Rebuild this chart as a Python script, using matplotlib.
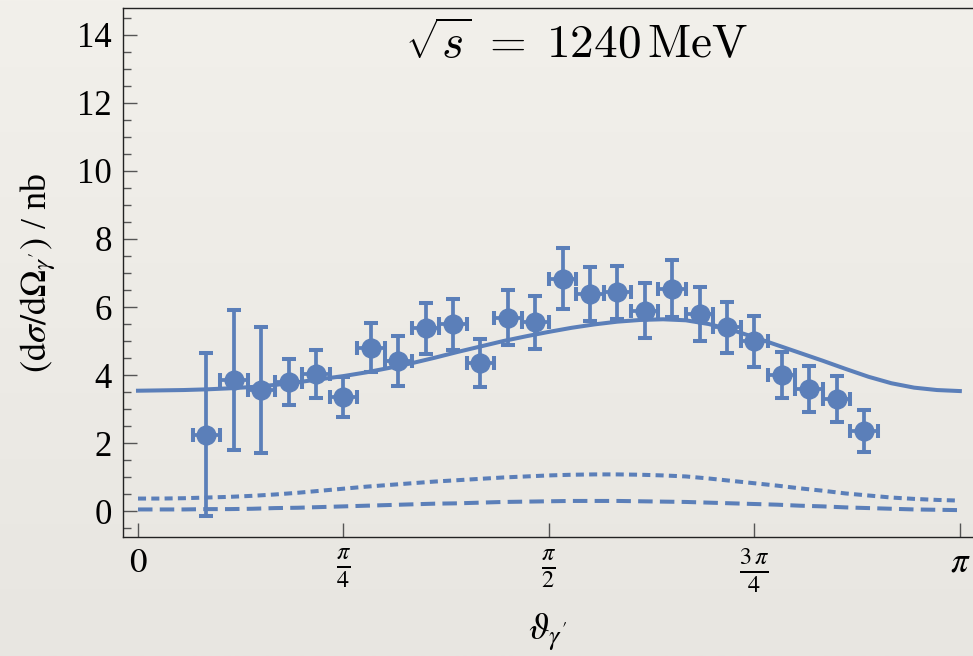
import numpy as np
import matplotlib
matplotlib.use("Agg")
import matplotlib.pyplot as plt
from matplotlib.ticker import FixedLocator, MultipleLocator
from matplotlib.colors import LinearSegmentedColormap

# ---- data (angles in degrees) ----
data_deg = [15, 21, 27, 33, 39, 45, 51, 57, 63, 69, 75, 81, 87, 93, 99, 105,
            111, 117, 123, 129, 135, 141, 147, 153, 159]
data_y = [2.25, 3.86, 3.56, 3.79, 4.04, 3.36, 4.81, 4.42, 5.37, 5.49, 4.36, 5.69,
          5.55, 6.83, 6.38, 6.43, 5.89, 6.54, 5.79, 5.41, 4.99, 4.01, 3.59, 3.30, 2.36]
data_err = [2.40, 2.05, 1.85, 0.68, 0.71, 0.59, 0.71, 0.73, 0.76, 0.74, 0.70, 0.81,
            0.77, 0.90, 0.79, 0.79, 0.81, 0.84, 0.79, 0.75, 0.75, 0.68, 0.67, 0.67, 0.62]
data_xerr_deg = 3.0

curve_deg = [0, 5, 10, 15, 20, 25, 30, 35, 40, 45, 50, 55, 60, 65, 70, 75, 80, 85,
             90, 95, 100, 105, 110, 115, 120, 125, 130, 135, 140, 145, 150, 155,
             160, 165, 170, 175, 180]
total = [3.54, 3.55, 3.56, 3.58, 3.61, 3.65, 3.71, 3.79, 3.88, 3.97, 4.08, 4.21,
         4.35, 4.51, 4.68, 4.84, 5.00, 5.14, 5.27, 5.39, 5.49, 5.57, 5.62, 5.64,
         5.61, 5.50, 5.33, 5.11, 4.88, 4.65, 4.42, 4.18, 3.95, 3.76, 3.63, 3.56, 3.53]
dotted = [0.37, 0.37, 0.38, 0.40, 0.42, 0.45, 0.49, 0.54, 0.60, 0.66, 0.72, 0.77,
          0.82, 0.87, 0.91, 0.95, 0.99, 1.02, 1.05, 1.07, 1.08, 1.08, 1.07, 1.05,
          1.02, 0.96, 0.89, 0.82, 0.75, 0.67, 0.60, 0.52, 0.46, 0.40, 0.36, 0.33, 0.31]
dashed = [0.05, 0.05, 0.05, 0.06, 0.06, 0.07, 0.09, 0.10, 0.12, 0.14, 0.16, 0.18,
          0.20, 0.22, 0.23, 0.25, 0.27, 0.28, 0.29, 0.30, 0.30, 0.30, 0.29, 0.28,
          0.27, 0.25, 0.23, 0.21, 0.19, 0.16, 0.14, 0.11, 0.09, 0.07, 0.05, 0.04, 0.03]

xtick_vals = [0, np.pi / 4, np.pi / 2, 3 * np.pi / 4, np.pi]
xtick_labels = [r"$0$", r"$\frac{\pi}{4}$", r"$\frac{\pi}{2}$",
                r"$\frac{3\,\pi}{4}$", r"$\pi$"]
ytick_vals = [0, 2, 4, 6, 8, 10, 12, 14]

blue = "#5b7fb9"

fig = plt.figure(figsize=(9.73, 6.56), dpi=100)
fig.patch.set_facecolor("#edebe6")

# subtle background gradient
bg = fig.add_axes([0, 0, 1, 1], zorder=-10)
grad = np.linspace(0, 1, 256).reshape(-1, 1)
cmap = LinearSegmentedColormap.from_list("bg", ["#f2f0eb", "#e8e6e1"])
bg.imshow(grad, aspect="auto", cmap=cmap, extent=[0, 1, 0, 1])
bg.axis("off")

ax = fig.add_axes([123 / 973, 1 - 537 / 656, 1 - 123 / 973, (537 - 8) / 656])
ax.patch.set_alpha(0)

xr = np.deg2rad(curve_deg)
lw = 2.9
ax.plot(xr, total, color=blue, lw=lw, zorder=2)
ax.plot(xr, dotted, color=blue, lw=lw, dashes=(2.0, 1.3), zorder=2)
ax.plot(xr, dashed, color=blue, lw=lw, dashes=(3.6, 1.8), zorder=2)

ax.errorbar(np.deg2rad(data_deg), data_y, yerr=data_err,
            xerr=np.deg2rad(data_xerr_deg), fmt="o", color=blue, ms=13.5,
            elinewidth=2.7, capsize=5, capthick=2.9, zorder=3)

ax.set_xlim(-15 / 261.6, (973 - 138) / 261.6)
ax.set_ylim(-0.76, 14.79)

ax.xaxis.set_major_locator(FixedLocator(xtick_vals))
ax.set_xticklabels(xtick_labels)
ax.yaxis.set_major_locator(FixedLocator(ytick_vals))
ax.yaxis.set_minor_locator(MultipleLocator(0.5))

serif = ["Liberation Serif", "DejaVu Serif"]
for lab in ax.get_xticklabels() + ax.get_yticklabels():
    lab.set_family(serif)
    lab.set_math_fontfamily("stix")
    lab.set_fontsize(25)

ax.tick_params(axis="x", which="major", direction="in", length=10, width=1,
               color="#555555", pad=7, top=False)
ax.tick_params(axis="x", which="minor", bottom=False, top=False)
ax.tick_params(axis="y", which="major", direction="in", length=10, width=1,
               color="#555555", pad=8, right=False)
ax.tick_params(axis="y", which="minor", direction="in", length=6, width=1,
               color="#555555", right=False)

ax.spines["right"].set_visible(False)
for s in ["left", "bottom", "top"]:
    ax.spines[s].set_linewidth(1.0)
    ax.spines[s].set_color("#222222")

ax.set_ylabel(r"$(\mathrm{d}\sigma/\mathrm{d}\Omega_{\gamma'})$ / nb",
              family=serif, math_fontfamily="stix", fontsize=26, labelpad=14)
ax.set_xlabel(r"$\vartheta_{\gamma'}$", family=serif, math_fontfamily="stix",
              fontsize=27, labelpad=12)

fig.text(577 / 973, 1 - 45 / 656, r"$\sqrt{s}\;=\;1240\,\mathrm{MeV}$",
         math_fontfamily="cm", fontsize=34, ha="center", va="center")

fig.savefig("out.png", dpi=100, facecolor=fig.get_facecolor())
